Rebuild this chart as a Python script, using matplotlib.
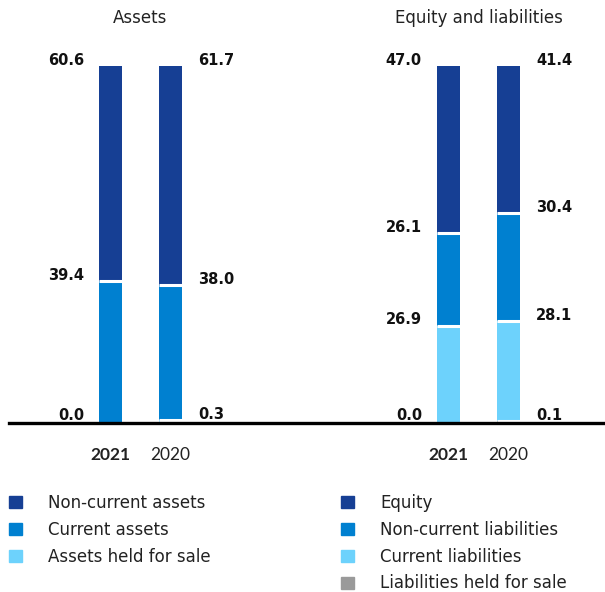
import matplotlib
matplotlib.use("Agg")
import matplotlib.pyplot as plt
import matplotlib.transforms as mtransforms
from matplotlib.patches import Patch

plt.rcParams['font.family'] = ['DejaVu Sans']

# data (percent of total)
years = ['2021', '2020']
panels = ['Assets', 'Equity and liabilities']

asset_names = ['Assets held for sale', 'Current assets', 'Non-current assets']
asset_values = [[0.0, 39.4, 60.6],   # 2021
                [0.3, 38.0, 61.7]]   # 2020

eq_names = ['Liabilities held for sale', 'Current liabilities',
            'Non-current liabilities', 'Equity']
eq_values = [[0.0, 26.9, 26.1, 47.0],   # 2021
             [0.1, 28.1, 30.4, 41.4]]   # 2020

asset_colors = ['#6dd2fc', '#0080d0', '#163f94']
eq_colors = ['#9a9a9a', '#6dd2fc', '#0080d0', '#163f94']

# layout
W, H = 605, 592
fig = plt.figure(figsize=(W / 100, H / 100), dpi=100)
base_px = 421.5      # pixel row of bar bottoms (from top)
top_px = 66          # pixel row of 100 %
ax = fig.add_axes([0, (H - base_px) / H, 1, (base_px - top_px) / H])
unit = 60            # px per x unit
x0_px = 110.5
ax.set_xlim(-x0_px / unit, (W - x0_px) / unit)
ax.set_ylim(0, 100)
ax.axis('off')

group_x = [0.0, 5.633]
bar_w = 23 / unit
px_per_y = (base_px - top_px) / 100


def draw_group(gx, values, colors):
    for yi, vals in enumerate(values):
        x = gx + yi
        bottom = 0
        for si, v in enumerate(vals):
            ax.bar(x, v, bottom=bottom, width=bar_w, color=colors[si],
                   linewidth=0, zorder=2)
            top = bottom + v
            # white separator above every segment but the last
            if si < len(vals) - 1 and top > 0:
                ax.plot([x - bar_w / 2, x + bar_w / 2], [top, top],
                        color='white', lw=2.2, solid_capstyle='butt', zorder=3)
            # value label at segment top
            if yi == 0:
                off, ha = (-(bar_w / 2 * unit) - 15) * 0.72, 'right'
            else:
                off, ha = ((bar_w / 2 * unit) + 16) * 0.72, 'left'
            ax.annotate(f'{v:.1f}', (x, top), xytext=(off, 1),
                        textcoords='offset points', ha=ha, va='baseline',
                        fontsize=10.5, fontweight='bold', color='#111111',
                        annotation_clip=False)
            bottom = top
        ax.annotate(years[yi], (x, 0), xytext=(0, -34 * 0.72),
                    textcoords='offset points', ha='center', va='center',
                    fontsize=12.5, color='#222222', family=['Lato'],
                    fontweight='bold' if yi == 0 else 'normal',
                    annotation_clip=False)


draw_group(group_x[0], asset_values, asset_colors)
draw_group(group_x[1], eq_values, eq_colors)

# baseline
ax.axhline(-1.5 / px_per_y, xmin=9 / W, xmax=1, color='black', lw=2.4,
           zorder=5, clip_on=False)

# panel titles
trans = mtransforms.blended_transform_factory(ax.transData, fig.transFigure)
for gx, title in zip(group_x, panels):
    ax.text(gx + 0.5, 1 - 18 / H, title, transform=trans, ha='center',
            va='center', fontsize=12, color='#222222')

# legends
leg_kw = dict(frameon=False, loc='upper left', fontsize=12,
              handlelength=0.75, handleheight=0.7, handletextpad=1.62,
              labelspacing=0.53, borderpad=0, borderaxespad=0,
              labelcolor='#222222')
h1 = [Patch(color=c) for c in asset_colors[::-1]]
fig.legend(h1, asset_names[::-1], bbox_to_anchor=(9 / W, 1 - 494 / H), **leg_kw)
h2 = [Patch(color=c) for c in eq_colors[::-1]]
fig.legend(h2, eq_names[::-1], bbox_to_anchor=(341 / W, 1 - 494 / H), **leg_kw)

fig.savefig('out.png', dpi=100, facecolor='white')
